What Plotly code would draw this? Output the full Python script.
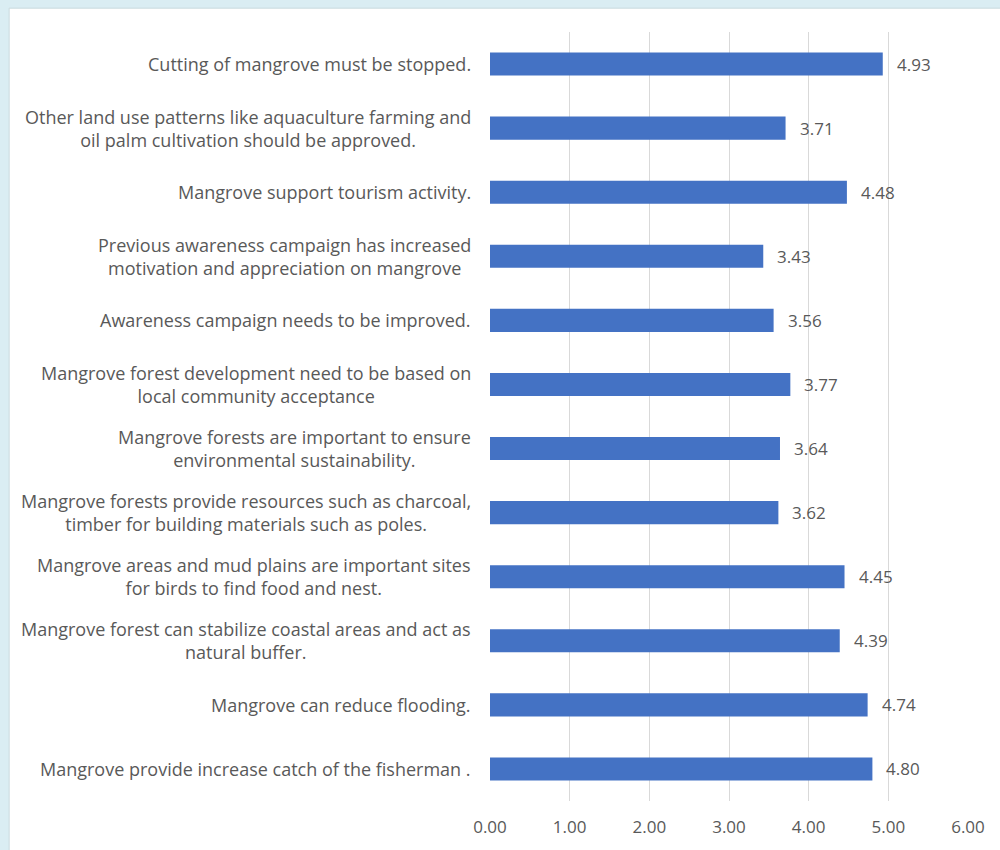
import plotly.graph_objects as go

# Survey statements (top to bottom) and their mean scores
statements = [
    "Cutting of mangrove must be stopped.",
    "Other land use patterns like aquaculture farming and<br>oil palm cultivation should be approved.",
    "Mangrove support tourism activity.",
    "Previous awareness campaign has increased<br>motivation and appreciation on mangrove",
    "Awareness campaign needs to be improved.",
    "Mangrove forest development need to be based on<br>local community acceptance",
    "Mangrove forests are important to ensure<br>environmental sustainability.",
    "Mangrove forests provide resources such as charcoal,<br>timber for building materials such as poles.",
    "Mangrove areas and mud plains are important sites<br>for birds to find food and nest.",
    "Mangrove forest can stabilize coastal areas and act as<br>natural buffer.",
    "Mangrove can reduce flooding.",
    "Mangrove provide increase catch of the fisherman .",
]
mean_scores = [4.93, 3.71, 4.48, 3.43, 3.56, 3.77, 3.64, 3.62, 4.45, 4.39, 4.74, 4.80]
x_ticks = [0, 1, 2, 3, 4, 5, 6]
x_tick_labels = ["0.00", "1.00", "2.00", "3.00", "4.00", "5.00", "6.00"]

BAR_BLUE = "#4472C4"
TEXT_GREY = "#595959"
GRID_GREY = "#D9D9D9"
FRAME_BLUE = "#DAEDF3"
FONT = "Open Sans"

cat_ids = [f"s{i}" for i in range(len(statements))]

fig = go.Figure()
fig.add_trace(go.Bar(
    y=cat_ids,
    x=mean_scores,
    orientation="h",
    width=0.36,
    marker=dict(color=BAR_BLUE, line=dict(width=0)),
    hoverinfo="skip",
))

annotations = []
# value labels just past the end of each bar
for cid, v in zip(cat_ids, mean_scores):
    annotations.append(dict(
        x=v, y=cid, xref="x", yref="y",
        text=f"{v:.2f}", showarrow=False,
        xanchor="left", yanchor="middle", xshift=12,
        font=dict(family=FONT, size=17, color=TEXT_GREY),
    ))

# category labels: right-aligned block, lines centred within it
for cid, label in zip(cat_ids, statements):
    annotations.append(dict(
        x=0, y=cid, xref="paper", yref="y", showarrow=False,
        xanchor="right", yanchor="middle", align="center", xshift=-17,
        text=label,
        font=dict(family=FONT, size=18, color=TEXT_GREY),
    ))

fig.update_layout(
    width=1000, height=850,
    margin=dict(l=490, r=32, t=32, b=49),
    paper_bgcolor=FRAME_BLUE,
    plot_bgcolor="rgba(0,0,0,0)",
    showlegend=False,
    annotations=annotations,
    shapes=[dict(
        type="rect", xref="paper", yref="paper",
        x0=-1.006, x1=1.2, y0=-0.2, y1=1.031,
        fillcolor="white", line=dict(color="#C9D9DE", width=1),
        layer="below",
    )],
    xaxis=dict(
        range=[0, 6],
        tickvals=x_ticks, ticktext=x_tick_labels,
        showgrid=True, gridcolor=GRID_GREY, gridwidth=1,
        zeroline=False, showline=False, ticks="",
        ticklabelstandoff=14,
        tickfont=dict(family=FONT, size=17, color=TEXT_GREY),
        fixedrange=True,
    ),
    yaxis=dict(
        categoryorder="array", categoryarray=cat_ids,
        autorange="reversed",
        showticklabels=False, showgrid=False, zeroline=False,
        showline=False, ticks="",
        fixedrange=True,
    ),
)

fig.write_html("out.html")
